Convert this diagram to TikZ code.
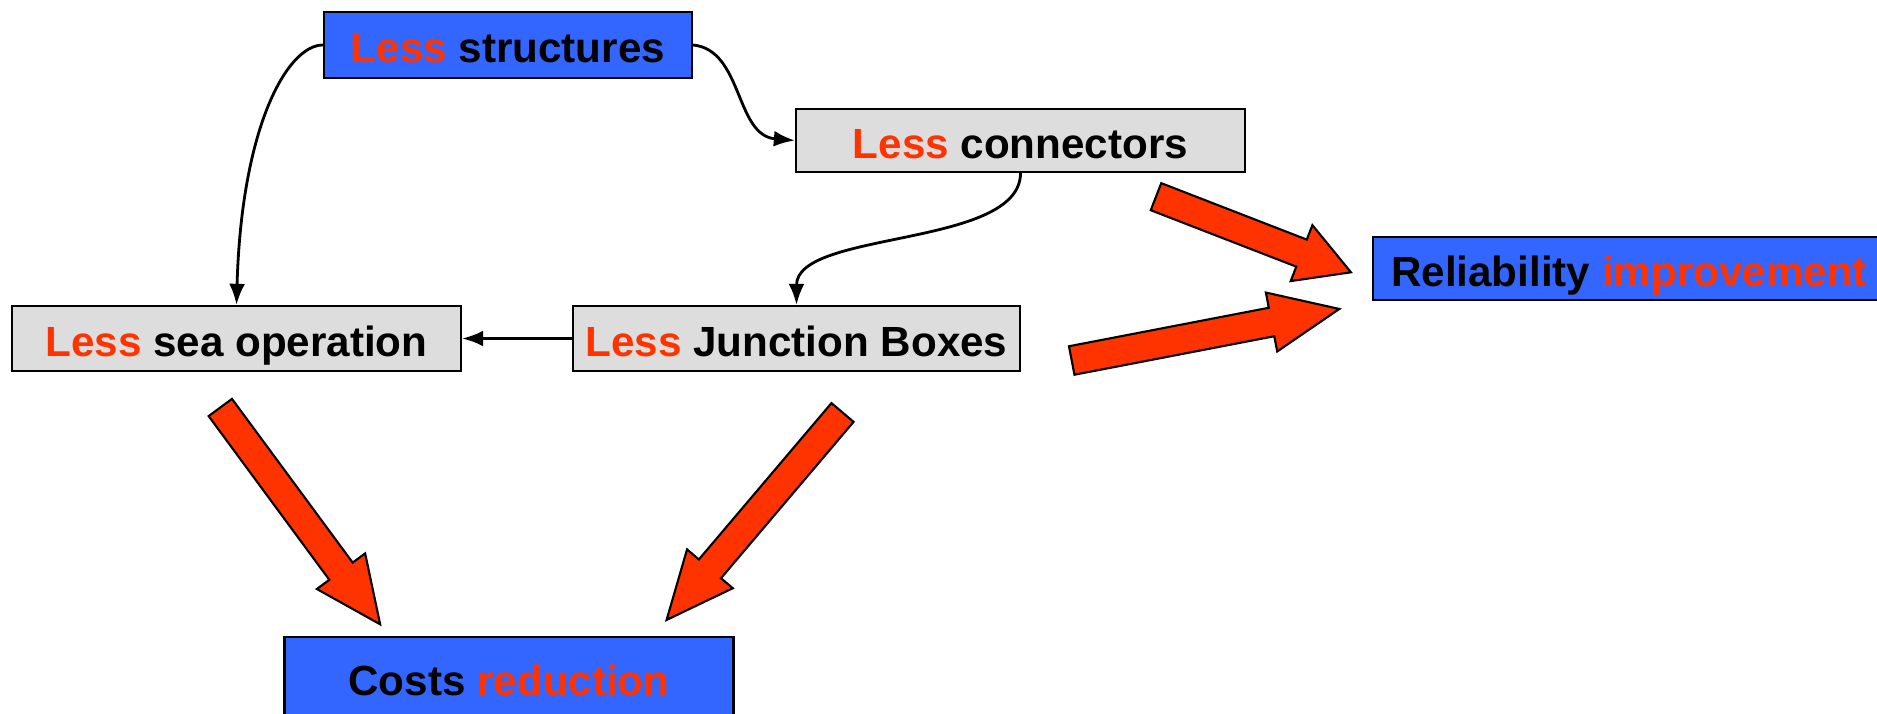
\documentclass[tikz,border=0pt]{standalone}
\usepackage{fontspec}
\setmainfont{Liberation Sans}
\usepackage{xcolor}
\usetikzlibrary{arrows.meta}
\definecolor{boxblue}{HTML}{3366FF}
\definecolor{boxgrey}{HTML}{DDDDDD}
\definecolor{hotred}{HTML}{FF3300}
\newcommand{\redword}[1]{\textcolor{hotred}{#1}}
% block arrow: tail, angle, length, head length
\newcommand{\fatarrow}[4]{%
  \draw [fatarrowline, shift={(#1)}, rotate=#2]
    (0,-0.145) -- (#3-#4,-0.145) -- (#3-#4,-0.3) -- (#3,0)
    -- (#3-#4,0.3) -- (#3-#4,0.145) -- (0,0.145) -- cycle;}
\tikzstyle{bluebox}      = [rectangle, draw=black, line width=0.6pt, fill=boxblue, inner sep=0pt, text centered, text height=10pt, text depth=0pt, font=\fontsize{12}{14}\selectfont\bfseries]
\tikzstyle{greybox}      = [bluebox, fill=boxgrey]
\tikzstyle{arrow}        = [line width=0.8pt, ->, >={Latex[length=6pt,width=4.5pt]}]
\tikzstyle{fatarrowline} = [draw=black, line width=0.6pt, fill=hotred, line join=miter]

\begin{document}
\begin{tikzpicture}
    \clip (0,0) rectangle (18.77,-7.14);

    \node (str)  [bluebox, minimum width=3.68cm, minimum height=0.66cm] at (5.08,-0.45)   {\redword{Less} structures};
    \node (con)  [greybox, minimum width=4.49cm, minimum height=0.63cm] at (10.205,-1.405) {\redword{Less} connectors};
    \node (rel)  [bluebox, minimum width=5.12cm, minimum height=0.63cm] at (16.29,-2.685)  {Reliability \redword{improvement}};
    \node (sea)  [greybox, minimum width=4.49cm, minimum height=0.65cm] at (2.365,-3.385)  {\redword{Less} sea operation};
    \node (jb)   [greybox, minimum width=4.47cm, minimum height=0.65cm] at (7.965,-3.385)  {\redword{Less} Junction Boxes};
    \node (cost) [bluebox, minimum width=4.49cm, minimum height=0.82cm] at (5.09,-6.78)    {Costs \redword{reduction}};

    \draw [arrow] (str.west) .. controls +(-0.35,0) and +(0.05,1.8) .. (sea.north);
    \draw [arrow] (str.east) .. controls +(0.5,-0.05) and +(-0.6,0.05) .. (con.west);
    \draw [arrow] (con.south) .. controls +(0,-0.75) and +(0,0.75) .. (jb.north);
    \draw [arrow] (jb.west) -- (sea.east);

    % red block arrows
    \coordinate (seaTail) at (2.203,-4.075);
    \coordinate (jbTail)  at (8.425,-4.125);
    \coordinate (conTail) at (11.56,-1.967);
    \coordinate (relTail) at (10.717,-3.605);
    \fatarrow{seaTail}{-53.6}{2.694}{0.66}
    \fatarrow{jbTail}{-130.3}{2.72}{0.67}
    \fatarrow{conTail}{-21.2}{2.091}{0.53}
    \fatarrow{relTail}{10.9}{2.725}{0.69}
\end{tikzpicture}
\end{document}
